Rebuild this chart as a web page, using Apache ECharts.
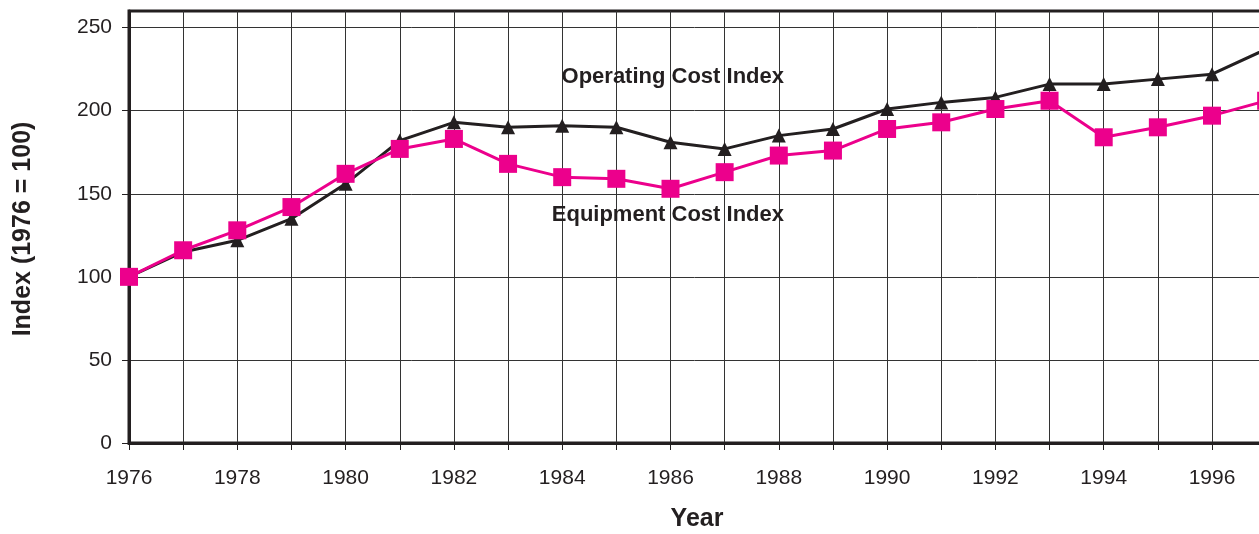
<!DOCTYPE html>
<html>
<head>
<meta charset="utf-8">
<script src="https://cdn.jsdelivr.net/npm/echarts@6/dist/echarts.min.js"></script>
<style>
html,body{margin:0;padding:0;background:#fff;}
#chart{width:1259px;height:534px;}
</style>
</head>
<body>
<div id="chart"></div>
<script>
var years = [1976,1977,1978,1979,1980,1981,1982,1983,1984,1985,1986,1987,1988,1989,1990,1991,1992,1993,1994,1995,1996,1997];
var operatingCost = [100,115,122,135,156,182,193,190,191,190,181,177,185,189,201,205,208,216,216,219,222,237];
var equipmentCost = [100,116,128,142,162,177,183,168,160,159,153,163,173,176,189,193,201,206,184,190,197,206];
var yTicks = [0,50,100,150,200,250];
var seriesNames = ['Operating Cost Index','Equipment Cost Index'];

function pairs(vals){ return years.map(function(y,i){ return [y, vals[i]]; }); }

var ink = '#231F20';
var pink = '#EC008C';
var font = 'Liberation Sans, Arial, Helvetica, sans-serif';

var chart = echarts.init(document.getElementById('chart'));
chart.setOption({
  animation: false,
  backgroundColor: '#fff',
  grid: { left: 129, top: 11, width: 54.15 * 22, height: 432,
          outerBoundsMode: 'none', containLabel: false,
          show: true, borderColor: ink, borderWidth: 3, backgroundColor: 'transparent' },
  xAxis: {
    type: 'value', min: 1976, max: 1998, interval: 1,
    axisLine: { lineStyle: { color: ink, width: 3 } },
    axisTick: { show: true, length: 7, lineStyle: { color: ink, width: 1 } },
    axisLabel: { margin: 25, fontSize: 21, color: ink, fontFamily: font,
      formatter: function(v){ return (v % 2 === 0) ? String(v) : ''; } },
    splitLine: { show: true, lineStyle: { color: '#333', width: 1 } }
  },
  yAxis: {
    type: 'value', min: 0, max: 260, interval: 50,
    axisLine: { show: true, lineStyle: { color: ink, width: 3 } },
    axisTick: { show: true, length: 7, customValues: yTicks, lineStyle: { color: ink, width: 1 } },
    axisLabel: { margin: 17, fontSize: 21, color: ink, fontFamily: font, customValues: yTicks,
      formatter: function(v){ return yTicks.indexOf(v) >= 0 ? String(v) : ''; } },
    splitLine: { show: true, lineStyle: { color: '#333', width: 1 } }
  },
  graphic: [
    { type: 'text', x: 23, y: 229, rotation: Math.PI/2,
      style: { text: 'Index (1976 = 100)', font: 'bold 25px ' + font, fill: ink,
               x: 0, y: 0, textAlign: 'center', textVerticalAlign: 'middle' }, z: 10 },
    { type: 'text', x: 697, y: 519,
      style: { text: 'Year', font: 'bold 25px ' + font, fill: ink,
               x: 0, y: 0, textAlign: 'center', textVerticalAlign: 'middle' }, z: 10 },
    { type: 'text', x: 784, y: 77,
      style: { text: seriesNames[0], font: 'bold 22px ' + font, fill: ink,
               x: 0, y: 0, textAlign: 'right', textVerticalAlign: 'middle' }, z: 10 },
    { type: 'text', x: 784, y: 215,
      style: { text: seriesNames[1], font: 'bold 22px ' + font, fill: ink,
               x: 0, y: 0, textAlign: 'right', textVerticalAlign: 'middle' }, z: 10 }
  ],
  series: [
    { name: seriesNames[0], type: 'line', data: pairs(operatingCost),
      symbol: 'triangle', symbolSize: 14, showAllSymbol: true,
      lineStyle: { color: ink, width: 3 }, itemStyle: { color: ink }, z: 3 },
    { name: seriesNames[1], type: 'line', data: pairs(equipmentCost),
      symbol: 'rect', symbolSize: 18, showAllSymbol: true,
      lineStyle: { color: pink, width: 3 }, itemStyle: { color: pink }, z: 4 }
  ]
});
</script>
</body>
</html>
